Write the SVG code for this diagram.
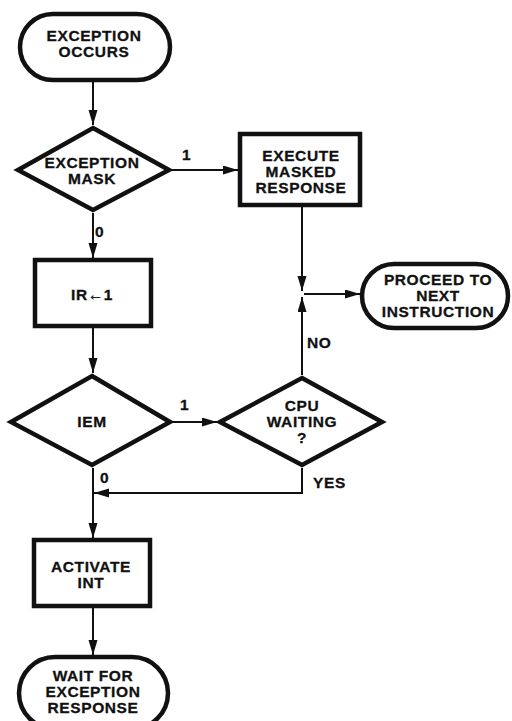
<svg xmlns="http://www.w3.org/2000/svg" width="512" height="721" viewBox="0 0 512 721">
<style>
.shape{fill:#fff;stroke:#111;stroke-width:4.5;stroke-linejoin:miter}
.conn{fill:none;stroke:#111;stroke-width:2}
text{font-family:"Liberation Sans",Arial,sans-serif;font-weight:bold;font-size:15.5px;letter-spacing:0.6px;fill:#111;stroke:#111;stroke-width:0.3;text-anchor:middle}
.lbl{text-anchor:start}
</style>
<defs>
<marker id="ah" markerUnits="userSpaceOnUse" markerWidth="16" markerHeight="10" refX="15" refY="4.5" orient="auto">
<path d="M0,0 L15,4.5 L0,9 z" fill="#111"/>
</marker>
</defs>
<rect width="512" height="721" fill="#fff"/>
<g id="connectors">
<line class="conn" x1="93" y1="82" x2="93" y2="125" marker-end="url(#ah)"/>
<line class="conn" x1="172" y1="170" x2="238" y2="170" marker-end="url(#ah)"/>
<line class="conn" x1="93" y1="213" x2="93" y2="258" marker-end="url(#ah)"/>
<line class="conn" x1="93" y1="328" x2="93" y2="373" marker-end="url(#ah)"/>
<line class="conn" x1="173" y1="422" x2="217" y2="422" marker-end="url(#ah)"/>
<line class="conn" x1="93" y1="468" x2="93" y2="538" marker-end="url(#ah)"/>
<line class="conn" x1="93" y1="608" x2="93" y2="655" marker-end="url(#ah)"/>
<polyline class="conn" points="302,468 302,493 94,493" marker-end="url(#ah)"/>
<line class="conn" x1="302" y1="375" x2="302" y2="297" marker-end="url(#ah)"/>
<line class="conn" x1="302" y1="207" x2="302" y2="291" marker-end="url(#ah)"/>
<line class="conn" x1="304" y1="294" x2="360" y2="294" marker-end="url(#ah)"/>
<text class="lbl" x="182" y="160">1</text>
<text class="lbl" x="95" y="237">0</text>
<text class="lbl" x="180" y="410">1</text>
<text class="lbl" x="100" y="483">0</text>
<text class="lbl" x="307" y="348">NO</text>
<text class="lbl" x="313" y="488">YES</text>
</g>
<g id="exception-occurs">
<rect class="shape" x="20" y="14" width="150" height="66" rx="33"/>
<text x="94" y="41">EXCEPTION</text>
<text x="94" y="57">OCCURS</text>
</g>
<g id="exception-mask">
<polygon class="shape" points="93,128 169,170 93,210 18,170"/>
<text x="92" y="168">EXCEPTION</text>
<text x="92" y="184">MASK</text>
</g>
<g id="execute-masked-response">
<rect class="shape" x="240" y="134" width="120" height="71"/>
<text x="301" y="161">EXECUTE</text>
<text x="301" y="177">MASKED</text>
<text x="301" y="193">RESPONSE</text>
</g>
<g id="proceed">
<rect class="shape" x="362" y="264" width="146" height="64" rx="32"/>
<text x="438" y="285">PROCEED TO</text>
<text x="438" y="301">NEXT</text>
<text x="438" y="317">INSTRUCTION</text>
</g>
<g id="ir-set">
<rect class="shape" x="35" y="260" width="116" height="66"/>
<text x="92" y="300">IR←1</text>
</g>
<g id="iem">
<polygon class="shape" points="92,376 170,422 92,465 11,422"/>
<text x="92" y="427">IEM</text>
</g>
<g id="cpu-waiting">
<polygon class="shape" points="302,378 382,422 302,465 220,422"/>
<text x="302" y="411">CPU</text>
<text x="302" y="427">WAITING</text>
<text x="302" y="443">?</text>
</g>
<g id="activate-int">
<rect class="shape" x="34" y="540" width="116" height="66"/>
<text x="91" y="572">ACTIVATE</text>
<text x="91" y="588">INT</text>
</g>
<g id="wait-for">
<rect class="shape" x="19" y="657" width="149" height="72" rx="36"/>
<text x="93" y="681">WAIT FOR</text>
<text x="93" y="697">EXCEPTION</text>
<text x="93" y="713">RESPONSE</text>
</g>
</svg>
